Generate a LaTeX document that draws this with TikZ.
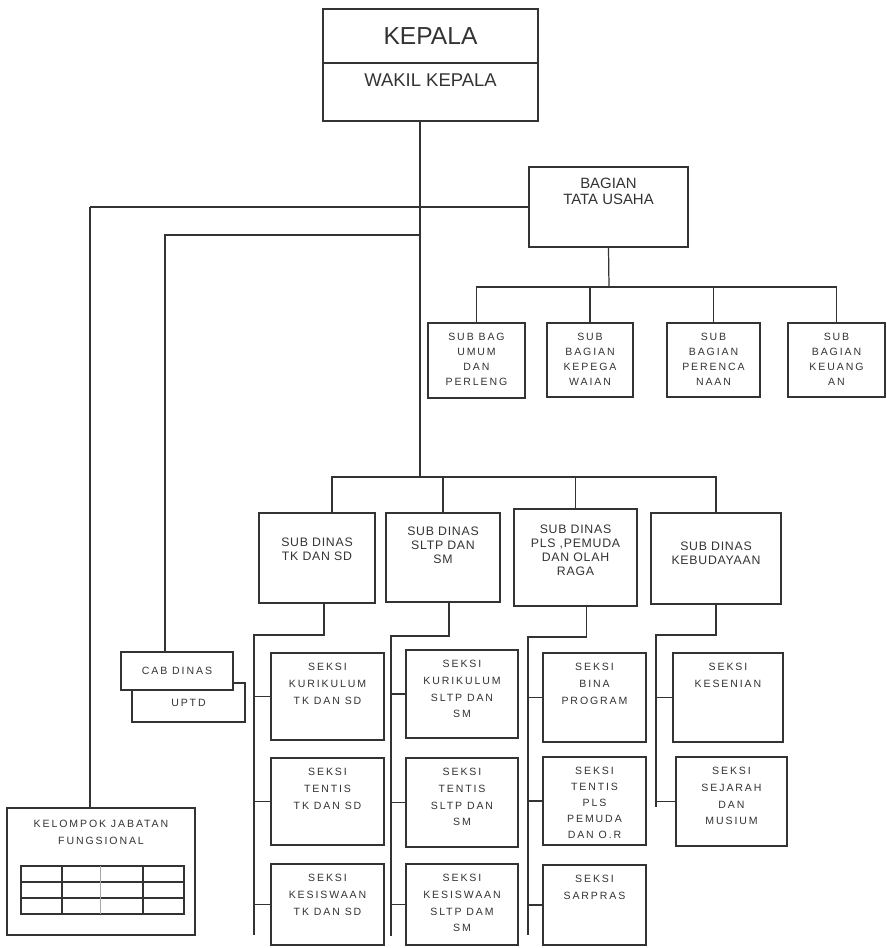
\documentclass[tikz,border=0pt]{standalone}
\usepackage{fontspec}
\setmainfont{Liberation Sans}
\newfontfamily\spaced[LetterSpace=18]{Liberation Sans}
\newfontfamily\dinasfont[LetterSpace=6]{Liberation Sans}
\usetikzlibrary{positioning,fit,calc}

\begin{document}
\begin{tikzpicture}[x=0.02cm, y=-0.02cm, color=black!80, line width=0.7pt,
    box/.style={draw, fill=white, inner sep=0pt},
    txt/.style={align=center, inner sep=0pt, font=\spaced\fontsize{6}{9.5}\selectfont},
    subtxt/.style={txt, font=\spaced\fontsize{6}{8.5}\selectfont},
    dintxt/.style={txt, font=\dinasfont\fontsize{7}{8}\selectfont}]

    \useasboundingbox (0,0) rectangle (887,948);

    % pimpinan
    \node[box, fit={(323,9) (538,63)}] (kepala) {};
    \node[txt, font=\fontsize{14}{16}\selectfont] (kepalaT) at (kepala) {KEPALA};
    \node[box, fit={(323,63) (538,121)}] (wakil) {};
    \node[txt, font=\fontsize{10.5}{12}\selectfont, below=6pt of wakil.north] (wakilT) {WAKIL KEPALA};

    \node[box, fit={(529,167) (688,247)}] (bagian) {};
    \node[txt, font=\fontsize{8.5}{9}\selectfont, below=6.5pt of bagian.north] (bagianT) {BAGIAN\\TATA USAHA};

    % sub bagian
    \node[box, fit={(428,323) (525,398)}] (umum) {};
    \node[subtxt, below=6pt of umum.north] (umumT) {SUB BAG\\UMUM\\DAN\\PERLENG};
    \node[box, fit={(547,323) (633,397)}] (kepeg) {};
    \node[subtxt, below=6pt of kepeg.north] (kepegT) {SUB\\BAGIAN\\KEPEGA\\WAIAN};
    \node[box, fit={(667,323) (760,397)}] (perenc) {};
    \node[subtxt, below=6pt of perenc.north] (perencT) {SUB\\BAGIAN\\PERENCA\\NAAN};
    \node[box, fit={(788,323) (885,397)}] (keuang) {};
    \node[subtxt, below=6pt of keuang.north] (keuangT) {SUB\\BAGIAN\\KEUANG\\AN};

    % sub dinas
    \node[box, fit={(259,513) (375,603)}] (sdtk) {};
    \node[dintxt, yshift=5pt] (sdtkT) at (sdtk) {SUB DINAS\\TK DAN SD};
    \node[box, fit={(386,513) (500,602)}] (sdsltp) {};
    \node[dintxt, yshift=7pt] (sdsltpT) at (sdsltp) {SUB DINAS\\SLTP DAN\\SM};
    \node[box, fit={(514,509) (637,606)}] (sdpls) {};
    \node[dintxt, yshift=4pt] (sdplsT) at (sdpls) {SUB DINAS\\PLS ,PEMUDA\\DAN OLAH\\RAGA};
    \node[box, fit={(651,513) (781,604)}] (sdbud) {};
    \node[dintxt, yshift=3pt] (sdbudT) at (sdbud) {SUB DINAS\\KEBUDAYAAN};

    % cabang dinas
    \node[box, fit={(132,683) (245,722)}] (uptd) {};
    \node[txt, above=9pt of uptd.south] (uptdT) {UPTD};
    \node[box, fit={(121,652) (233,690)}] (cabdinas) {};
    \node[txt] (cabdinasT) at (cabdinas) {CAB DINAS};

    % seksi
    \node[box, fit={(271,653) (384,740)}] (kurtk) {};
    \node[txt, below=6pt of kurtk.north] (kurtkT) {SEKSI\\KURIKULUM\\TK DAN SD};
    \node[box, fit={(271,758) (384,845)}] (tentk) {};
    \node[txt, below=6pt of tentk.north] (tentkT) {SEKSI\\TENTIS\\TK DAN SD};
    \node[box, fit={(271,864) (384,945)}] (kestk) {};
    \node[txt, below=6pt of kestk.north] (kestkT) {SEKSI\\KESISWAAN\\TK DAN SD};

    \node[box, fit={(406,650) (518,738)}] (kursltp) {};
    \node[txt, below=6pt of kursltp.north] (kursltpT) {SEKSI\\KURIKULUM\\SLTP DAN\\SM};
    \node[box, fit={(406,758) (518,847)}] (tensltp) {};
    \node[txt, below=6pt of tensltp.north] (tensltpT) {SEKSI\\TENTIS\\SLTP DAN\\SM};
    \node[box, fit={(406,864) (518,945)}] (kessltp) {};
    \node[txt, below=6pt of kessltp.north] (kessltpT) {SEKSI\\KESISWAAN\\SLTP DAM\\SM};

    \node[box, fit={(543,653) (646,742)}] (bina) {};
    \node[txt, below=6pt of bina.north] (binaT) {SEKSI\\BINA\\PROGRAM};
    \node[box, fit={(543,757) (646,845)}] (tenpls) {};
    \node[txt, font=\spaced\fontsize{6}{9}\selectfont, below=6pt of tenpls.north] (tenplsT) {SEKSI\\TENTIS\\PLS\\PEMUDA\\DAN O.R};
    \node[box, fit={(543,865) (646,945)}] (sarpras) {};
    \node[txt, below=6pt of sarpras.north] (sarprasT) {SEKSI\\SARPRAS};

    \node[box, fit={(673,653) (783,742)}] (kesenian) {};
    \node[txt, below=6pt of kesenian.north] (kesenianT) {SEKSI\\KESENIAN};
    \node[box, fit={(676,757) (787,846)}] (sejarah) {};
    \node[txt, below=6pt of sejarah.north] (sejarahT) {SEKSI\\SEJARAH\\DAN\\MUSIUM};

    % kelompok jabatan fungsional
    \node[box, fit={(7,808) (195,935)}] (kelompok) {};
    \node[txt, below=7pt of kelompok.north] (kelompokT) {KELOMPOK JABATAN\\FUNGSIONAL};
    \draw (21,866) rectangle (184,914);
    \draw (21,882) -- (184,882) (21,898) -- (184,898);
    \draw (62,866) -- (62,914) (143,866) -- (143,914);
    \draw[black!35, line width=0.5pt] (100,866) -- (100,914);

    % garis
    \coordinate (trunk) at (420,477);
    \coordinate (fgs) at (90,207);
    \coordinate (cab) at (165,235);
    \coordinate (tubus) at (609,287);
    \coordinate (c1) at (254,635);
    \coordinate (c2) at (391,636);
    \coordinate (c3) at (528,637);
    \coordinate (c4) at (656,635);

    \draw (wakil.south -| trunk) -- (trunk);
    \draw (fgs) -- (bagian.west);
    \draw (fgs) -- (fgs |- kelompok.north);
    \draw (trunk |- cab) -- (cab) -- (cab |- cabdinas.north);

    \draw (bagian.south) -- (tubus);
    \draw (umum.north) -- (umum.north |- tubus) -- (keuang.north |- tubus) -- (keuang.north);
    \draw (kepeg.north) -- (kepeg.north |- tubus);
    \draw (perenc.north) -- (perenc.north |- tubus);

    \draw ($(sdtk.north)+(15,0)$) |- (sdbud.north |- trunk) -- (sdbud.north);
    \draw (sdsltp.north) -- (sdsltp.north |- trunk);
    \draw (sdpls.north) -- (sdpls.north |- trunk);

    \draw ($(sdtk.south)+(7,0)$) |- (c1) -- ++(0,300);
    \draw ($(sdsltp.south)+(6,0)$) |- (c2) -- ++(0,300);
    \draw ($(sdpls.south)+(11,0)$) |- (c3) -- ++(0,298);
    \draw (sdbud.south) |- (c4) -- ++(0,172);

    \foreach \s in {kurtk,tentk,kestk} \draw (c1 |- \s.west) -- (\s.west);
    \foreach \s in {kursltp,tensltp,kessltp} \draw (c2 |- \s.west) -- (\s.west);
    \foreach \s in {bina,tenpls,sarpras} \draw (c3 |- \s.west) -- (\s.west);
    \foreach \s in {kesenian,sejarah} \draw (c4 |- \s.west) -- (\s.west);
\end{tikzpicture}
\end{document}
